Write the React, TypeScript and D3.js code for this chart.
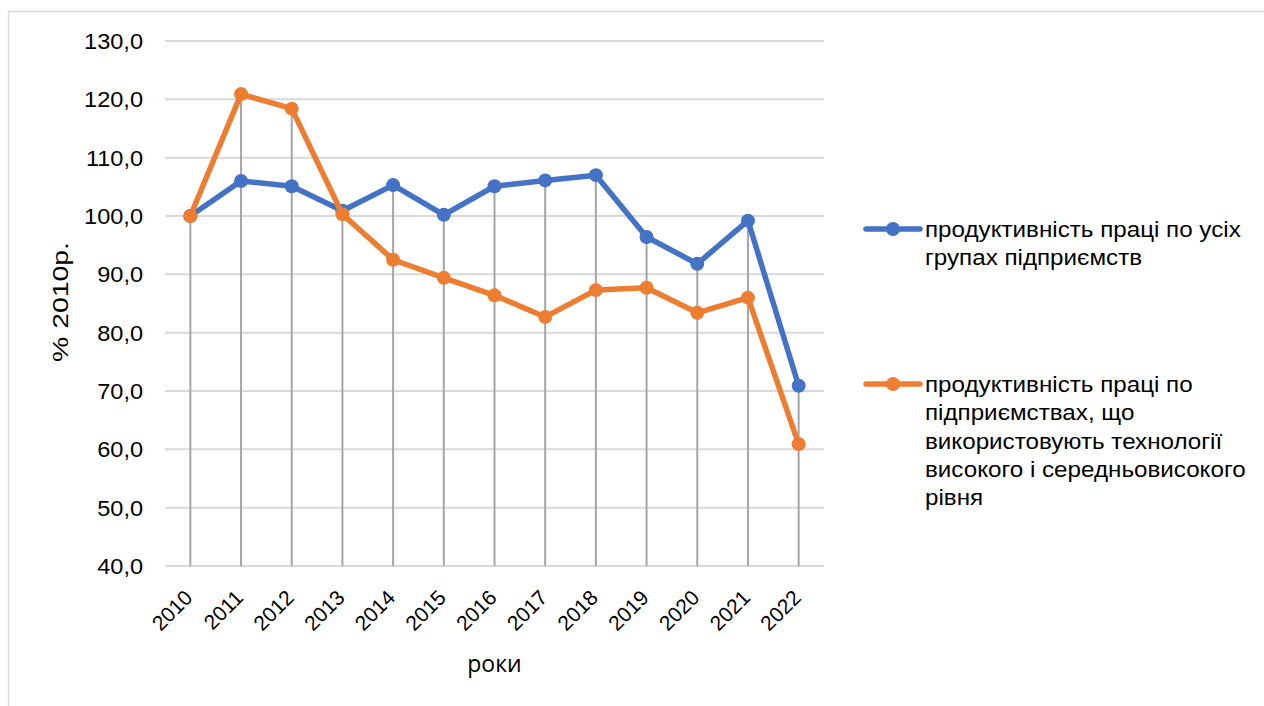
import React from 'react';
import * as d3 from 'd3';

const years = ['2010', '2011', '2012', '2013', '2014', '2015', '2016', '2017', '2018', '2019', '2020', '2021', '2022'];
const allEnterprises = [100.0, 106.0, 105.1, 100.9, 105.3, 100.2, 105.1, 106.1, 107.0, 96.4, 91.8, 99.2, 70.9];
const highTech = [100.0, 120.9, 118.4, 100.3, 92.5, 89.4, 86.4, 82.7, 87.3, 87.7, 83.4, 86.0, 60.9];
const yTicks = [40, 50, 60, 70, 80, 90, 100, 110, 120, 130];

const seriesNames = [
    ['продуктивність праці по усіх', 'групах підприємств'],
    ['продуктивність праці по', 'підприємствах, що', 'використовують технології', 'високого і середньовисокого', 'рівня'],
];
const colors = ['#4472C4', '#ED7D31'];

const FONT = '"Liberation Sans", Arial, sans-serif';

const App: React.FC = () => {
    const width = 1264;
    const height = 706;
    const left = 165;
    const right = 824;
    const top = 41;
    const bottom = 566;

    const x = d3.scaleBand<string>().domain(years).range([left, right]);
    const cx = (yr: string) => (x(yr) ?? 0) + x.bandwidth() / 2;
    const y = d3.scaleLinear().domain([40, 130]).range([bottom, top]);

    const series = [allEnterprises, highTech];
    const line = d3.line<number>()
        .x((_, i) => cx(years[i]))
        .y(d => y(d));

    const fmt = (v: number) => v.toFixed(1).replace('.', ',');

    const legendTops = [229, 384];

    return (
        <svg width={width} height={height} style={{ position: 'absolute', left: 0, top: 0 }} fontFamily={FONT}>
            <rect x={8.5} y={11.5} width={1262} height={700} fill="white" stroke="#d9d9d9" strokeWidth={1.5} />

            {yTicks.map(t => (
                <g key={t}>
                    <line x1={left} x2={right} y1={y(t)} y2={y(t)} stroke="#d9d9d9" strokeWidth={2} />
                    <text transform={`translate(143,${y(t)}) scale(1.07,1)`} dy="0.36em" textAnchor="end" fontSize={22} fill="#000">{fmt(t)}</text>
                </g>
            ))}

            {years.map((yr, i) => (
                <line key={yr} x1={cx(yr)} x2={cx(yr)}
                    y1={y(Math.max(allEnterprises[i], highTech[i]))} y2={bottom}
                    stroke="#a5a5a5" strokeWidth={2} />
            ))}

            {series.map((s, k) => (
                <g key={k}>
                    <path d={line(s) ?? ''} fill="none" stroke={colors[k]} strokeWidth={5.5} strokeLinejoin="round" strokeLinecap="round" />
                    {s.map((v, i) => (
                        <circle key={i} cx={cx(years[i])} cy={y(v)} r={7} fill={colors[k]} />
                    ))}
                </g>
            ))}

            {years.map(yr => (
                <text key={yr} transform={`translate(${cx(yr) + 3.5},599) rotate(-45)`}
                    textAnchor="end" fontSize={21} fill="#000">{yr}</text>
            ))}

            <text transform={`translate(68,302) rotate(-90)`} textAnchor="middle" fontSize={22} fill="#000"
                textLength={120} lengthAdjust="spacingAndGlyphs">% 2010р.</text>
            <text x={(left + right) / 2} y={672} textAnchor="middle" fontSize={23} fontFamily='"Open Sans", sans-serif' fill="#000">роки</text>

            {seriesNames.map((lines, k) => (
                <g key={k}>
                    <line x1={866} x2={920} y1={legendTops[k]} y2={legendTops[k]} stroke={colors[k]} strokeWidth={5.5} strokeLinecap="round" />
                    <circle cx={893} cy={legendTops[k]} r={7} fill={colors[k]} />
                    {lines.map((ln, j) => (
                        <text key={j} transform={`translate(925,${legendTops[k] + j * 28.3}) scale(1.1,1)`} dy="0.36em" fontSize={22} fill="#000">{ln}</text>
                    ))}
                </g>
            ))}
        </svg>
    );
};

export default App;
